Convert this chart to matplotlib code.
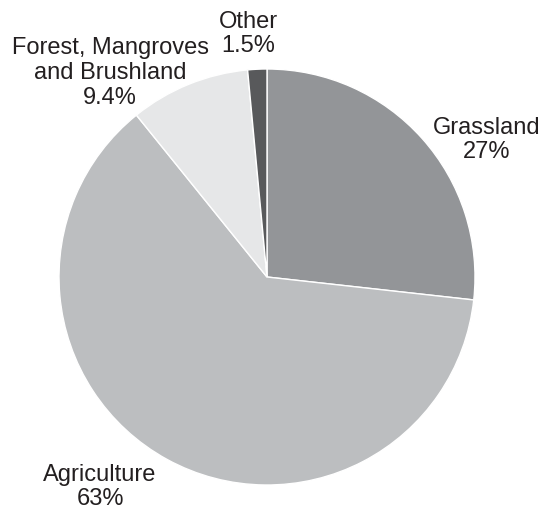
import matplotlib
matplotlib.use("Agg")
import matplotlib.pyplot as plt

categories = ["Grassland", "Agriculture", "Forest, Mangroves\nand Brushland", "Other"]
shares = [27, 63, 9.4, 1.5]
pct_labels = ["27%", "63%", "9.4%", "1.5%"]
colors = ["#939598", "#bcbec0", "#e6e7e8", "#58595b"]

plt.rcParams['font.family'] = ['Liberation Sans', 'DejaVu Sans']

fig = plt.figure(figsize=(5.43, 5.11), dpi=100)
ax = fig.add_axes([0, 0, 1, 1])

ax.pie(shares, colors=colors, startangle=90, counterclock=False,
       center=(267, 511 - 277), radius=208,
       wedgeprops=dict(edgecolor='white', linewidth=1))

ax.set_xlim(0, 543)
ax.set_ylim(0, 511)
ax.set_aspect('equal')
ax.axis('off')

# label positions (pixel coords, origin bottom-left)
label_pos = [(487, 511 - 140), (100, 511 - 487), (110, 511 - 73), (248, 511 - 34)]
for name, pct, (x, y) in zip(categories, pct_labels, label_pos):
    ax.text(x, y, name + "\n" + pct, ha='center', va='center',
            fontsize=17, color='#231f20', linespacing=1.17)

fig.savefig("out.png", dpi=100)
